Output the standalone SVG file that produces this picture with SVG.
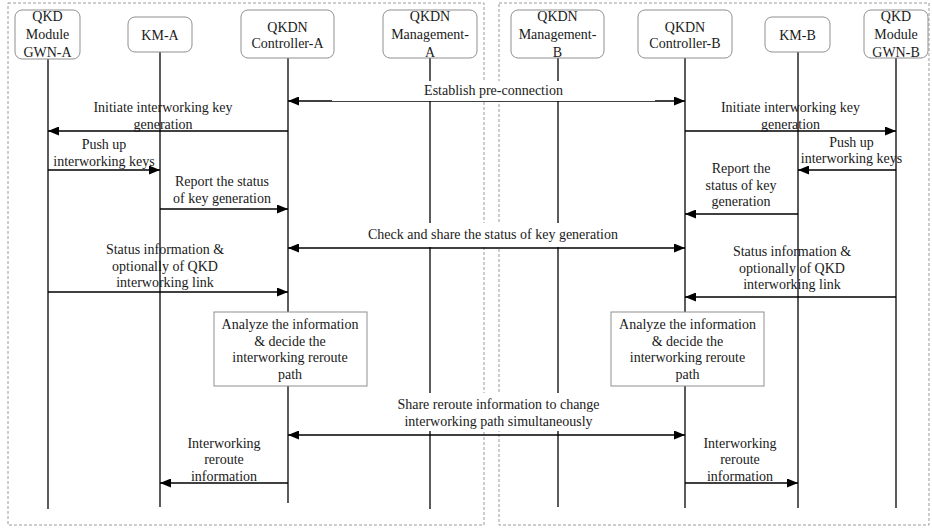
<svg xmlns="http://www.w3.org/2000/svg" width="932" height="528" viewBox="0 0 932 528">
  <defs>
    <marker id="head" viewBox="0 0 11 9" markerUnits="userSpaceOnUse" markerWidth="11" markerHeight="9" refX="11" refY="4.5" orient="auto-start-reverse">
      <path d="M0,0 L11,4.5 L0,9 z" fill="#000"/>
    </marker>
    <style>
      .frame { fill: none; stroke: #9a9a9a; stroke-width: 1; stroke-dasharray: 3 2; }
      .box { fill: #fff; stroke: #8f8f8f; stroke-width: 1; }
      .life { stroke: #333; stroke-width: 1.6; fill: none; }
      .msg { stroke: #000; stroke-width: 1.5; fill: none; marker-end: url(#head); }
      .both { marker-start: url(#head); }
      .bg { fill: #fff; stroke: none; }
      text { font-family: "Liberation Serif", "Times New Roman", serif; font-size: 14px; fill: #1a1a1a; text-anchor: middle; }
    </style>
  </defs>

  <rect width="932" height="528" fill="#fff"/>

  <!-- domain frames -->
  <g id="frames">
    <rect class="frame" x="8" y="3" width="476" height="522"/>
    <rect class="frame" x="499" y="3" width="430" height="522"/>
  </g>

  <!-- participants with their lifelines -->
  <g id="gwn-a">
    <line class="life" x1="48" y1="59" x2="48" y2="509"/>
    <rect class="box" x="15" y="10" width="65" height="49" rx="7"/>
    <text x="47.5" y="21">QKD</text>
    <text x="47.5" y="39">Module</text>
    <text x="47.5" y="57">GWN-A</text>
  </g>
  <g id="km-a">
    <line class="life" x1="160" y1="52" x2="160" y2="507"/>
    <rect class="box" x="128" y="17" width="64" height="35" rx="7"/>
    <text x="160" y="40">KM-A</text>
  </g>
  <g id="controller-a">
    <line class="life" x1="288" y1="58" x2="288" y2="503"/>
    <rect class="box" x="241" y="10" width="93" height="48" rx="7"/>
    <text x="287.5" y="31.5">QKDN</text>
    <text x="287.5" y="48">Controller-A</text>
  </g>
  <g id="management-a">
    <line class="life" x1="430" y1="58" x2="430" y2="509"/>
    <rect class="box" x="383" y="10" width="94" height="48" rx="7"/>
    <text x="430" y="21">QKDN</text>
    <text x="430" y="39">Management-</text>
    <text x="430" y="57">A</text>
  </g>
  <g id="management-b">
    <line class="life" x1="558" y1="58" x2="558" y2="507"/>
    <rect class="box" x="511" y="10" width="93" height="48" rx="7"/>
    <text x="557.5" y="21">QKDN</text>
    <text x="557.5" y="39">Management-</text>
    <text x="557.5" y="57">B</text>
  </g>
  <g id="controller-b">
    <line class="life" x1="685" y1="58" x2="685" y2="508"/>
    <rect class="box" x="638" y="10" width="94" height="48" rx="7"/>
    <text x="685" y="31.5">QKDN</text>
    <text x="685" y="48">Controller-B</text>
  </g>
  <g id="km-b">
    <line class="life" x1="798" y1="52" x2="798" y2="508"/>
    <rect class="box" x="765" y="17" width="65" height="35" rx="7"/>
    <text x="797.5" y="40">KM-B</text>
  </g>
  <g id="gwn-b">
    <line class="life" x1="896" y1="58" x2="896" y2="508"/>
    <rect class="box" x="864" y="10" width="64" height="48" rx="7"/>
    <text x="896" y="21">QKD</text>
    <text x="896" y="39">Module</text>
    <text x="896" y="57">GWN-B</text>
  </g>

  <!-- local decision steps -->
  <g id="analyze-a">
    <rect class="box" x="214" y="312" width="153" height="74"/>
    <text x="290" y="329">Analyze the information</text>
    <text x="290" y="345.5">&amp; decide the</text>
    <text x="290" y="362">interworking reroute</text>
    <text x="290" y="378.5">path</text>
  </g>
  <g id="analyze-b">
    <rect class="box" x="611" y="312" width="153" height="74"/>
    <text x="687.5" y="329">Analyze the information</text>
    <text x="687.5" y="345.5">&amp; decide the</text>
    <text x="687.5" y="362">interworking reroute</text>
    <text x="687.5" y="378.5">path</text>
  </g>

  <!-- backgrounds of the cross-domain labels -->
  <g id="label-backgrounds">
    <rect class="bg" x="365" y="223" width="257" height="24"/>
    <rect class="bg" x="396" y="393" width="205" height="38"/>
  </g>

  <!-- messages -->
  <g id="connectors">
    <path class="msg both" d="M288,101 H685"/>
    <path class="msg" d="M288,131 H48"/>
    <path class="msg" d="M48,170 H160"/>
    <path class="msg" d="M160,209 H288"/>
    <path class="msg both" d="M288,248 H685"/>
    <path class="msg" d="M48,292 H288"/>
    <path class="msg both" d="M288,435 H685"/>
    <path class="msg" d="M288,483 H160"/>
    <path class="msg" d="M685,131 H896"/>
    <path class="msg" d="M896,170 H798"/>
    <path class="msg" d="M798,214 H685"/>
    <path class="msg" d="M896,297 H685"/>
    <path class="msg" d="M685,483 H798"/>
  </g>

  <!-- label backing that overlaps the pre-connection line -->
  <rect class="bg" x="332" y="81" width="323" height="20"/>

  <!-- message labels -->
  <g id="labels">
    <text x="493.5" y="95">Establish pre-connection</text>

    <text x="163" y="112">Initiate interworking key</text>
    <text x="163" y="128.5">generation</text>
    <text x="104" y="149">Push up</text>
    <text x="104" y="165.5">interworking keys</text>
    <text x="222" y="186">Report the status</text>
    <text x="222" y="202.5">of key generation</text>

    <text x="493" y="239">Check and share the status of key generation</text>

    <text x="165" y="254">Status information &amp;</text>
    <text x="165" y="270.5">optionally of QKD</text>
    <text x="165" y="287">interworking link</text>

    <text x="498.5" y="409">Share reroute information to change</text>
    <text x="498.5" y="425.5">interworking path simultaneously</text>

    <text x="224" y="447.5">Interworking</text>
    <text x="224" y="464">reroute</text>
    <text x="224" y="480.5">information</text>

    <text x="790.5" y="112">Initiate interworking key</text>
    <text x="790.5" y="128.5">generation</text>
    <text x="851.5" y="146.5">Push up</text>
    <text x="851.5" y="163">interworking keys</text>
    <text x="741" y="172.5">Report the</text>
    <text x="741" y="189.5">status of key</text>
    <text x="741" y="206">generation</text>

    <text x="792" y="256">Status information &amp;</text>
    <text x="792" y="272.5">optionally of QKD</text>
    <text x="792" y="289">interworking link</text>

    <text x="740" y="447.5">Interworking</text>
    <text x="740" y="464">reroute</text>
    <text x="740" y="480.5">information</text>
  </g>
</svg>
